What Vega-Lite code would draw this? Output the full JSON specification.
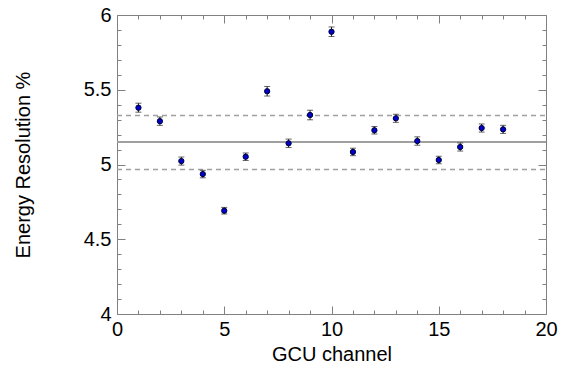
{
  "$schema": "https://vega.github.io/schema/vega-lite/v6.json",
  "width": 429,
  "height": 299,
  "padding": {"left": 117, "top": 15, "right": 22, "bottom": 56},
  "autosize": {"type": "none"},
  "background": "white",
  "config": {
    "view": {"stroke": null},
    "font": "Liberation Sans",
    "axis": {"grid": false, "domainColor": "#808080", "tickColor": "#808080", "labelColor": "#000000", "titleColor": "#000000", "labelFont": "Liberation Sans", "titleFont": "Liberation Sans", "titleFontWeight": "normal", "labelFontSize": 20, "titleFontSize": 20, "labelFlush": false, "labelOverlap": false}
  },
  "datasets": {
    "pts": [
      {"ch": 1, "res": 5.38, "err": 0.03},
      {"ch": 2, "res": 5.29, "err": 0.028},
      {"ch": 3, "res": 5.023, "err": 0.027},
      {"ch": 4, "res": 4.936, "err": 0.025},
      {"ch": 5, "res": 4.691, "err": 0.022},
      {"ch": 6, "res": 5.052, "err": 0.025},
      {"ch": 7, "res": 5.49, "err": 0.032},
      {"ch": 8, "res": 5.142, "err": 0.028},
      {"ch": 9, "res": 5.331, "err": 0.032},
      {"ch": 10, "res": 5.888, "err": 0.032},
      {"ch": 11, "res": 5.084, "err": 0.025},
      {"ch": 12, "res": 5.229, "err": 0.025},
      {"ch": 13, "res": 5.309, "err": 0.027},
      {"ch": 14, "res": 5.157, "err": 0.028},
      {"ch": 15, "res": 5.03, "err": 0.025},
      {"ch": 16, "res": 5.117, "err": 0.027},
      {"ch": 17, "res": 5.244, "err": 0.027},
      {"ch": 18, "res": 5.235, "err": 0.027}
    ],
    "bands": [
      {"v": 5.328},
      {"v": 4.966}
    ]
  },
  "data": {"name": "pts"},
  "layer": [
    {
      "mark": {"type": "rule", "color": "#a0a0a0", "strokeWidth": 1.5},
      "encoding": {
        "y": {"datum": 5.148, "type": "quantitative", "scale": {"domain": [4, 6], "nice": false, "zero": false}, "axis": null}
      }
    },
    {
      "data": {"name": "bands"},
      "mark": {"type": "rule", "color": "#a0a0a0", "strokeWidth": 1.5, "strokeDash": [5, 4]},
      "encoding": {
        "x": {"datum": 0, "type": "quantitative", "scale": {"domain": [0, 20], "nice": false, "zero": false},
          "axis": {"orient": "top", "values": [0,1,2,3,4,5,6,7,8,9,10,11,12,13,14,15,16,17,18,19,20], "labels": false, "title": null,
            "tickSize": {"condition": {"test": "datum.value % 5 === 0", "value": -8}, "value": -4}}},
        "x2": {"datum": 20},
        "y": {"field": "v", "type": "quantitative",
          "axis": {"orient": "right", "values": [4,4.1,4.2,4.3,4.4,4.5,4.6,4.7,4.8,4.9,5,5.1,5.2,5.3,5.4,5.5,5.6,5.7,5.8,5.9,6], "labels": false, "title": null,
            "tickSize": {"condition": {"test": "abs(datum.value*2 - round(datum.value*2)) < 0.001", "value": -8}, "value": -4}}}
      }
    },
    {
      "mark": {"type": "errorbar", "ticks": {"size": 6, "color": "#222222"}, "rule": {"color": "#222222"}},
      "encoding": {
        "x": {"field": "ch", "type": "quantitative", "axis": null},
        "y": {"field": "res", "type": "quantitative", "axis": null},
        "yError": {"field": "err"}
      }
    },
    {
      "mark": {"type": "point", "filled": true, "shape": "circle", "size": 28, "color": "#0000cc", "stroke": "#000033", "strokeWidth": 1, "opacity": 1},
      "encoding": {
        "x": {"field": "ch", "type": "quantitative",
          "axis": {"orient": "bottom", "values": [0,1,2,3,4,5,6,7,8,9,10,11,12,13,14,15,16,17,18,19,20], "title": "GCU channel", "titlePadding": 1,
            "labelExpr": "datum.value % 5 === 0 ? datum.label : ''", "labelPadding": 13,
            "tickSize": {"condition": {"test": "datum.value % 5 === 0", "value": -8}, "value": -4}}},
        "y": {"field": "res", "type": "quantitative",
          "axis": {"orient": "left", "values": [4,4.1,4.2,4.3,4.4,4.5,4.6,4.7,4.8,4.9,5,5.1,5.2,5.3,5.4,5.5,5.6,5.7,5.8,5.9,6], "title": "Energy Resolution %", "titlePadding": 50,
            "labelExpr": "abs(datum.value*2 - round(datum.value*2)) < 0.001 ? format(datum.value, '~g') : ''", "labelPadding": 14,
            "tickSize": {"condition": {"test": "abs(datum.value*2 - round(datum.value*2)) < 0.001", "value": -8}, "value": -4}}}
      }
    }
  ],
  "resolve": {"axis": {"x": "independent", "y": "independent"}}
}
